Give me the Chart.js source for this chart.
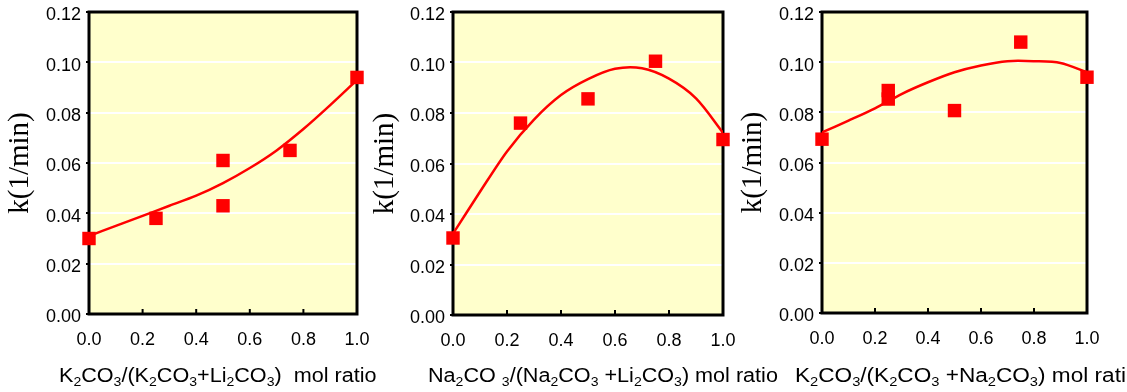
<!DOCTYPE html>
<html>
<head>
<meta charset="utf-8">
<script src="https://cdn.jsdelivr.net/npm/chart.js@4.4.1/dist/chart.umd.min.js"></script>
<style>
  body { margin: 0; background: #fff; }
  #wrap { position: relative; width: 1127px; height: 392px; overflow: hidden; }
  #wrap canvas { position: absolute; left: 0; top: 0; }
</style>
</head>
<body>
<div id="wrap">
  <canvas id="c1" width="1127" height="392"></canvas>
  <canvas id="c2" width="1127" height="392"></canvas>
  <canvas id="c3" width="1127" height="392"></canvas>
</div>
<script>
// measured points, K2CO3/(K2CO3+Li2CO3)
var xLiK = [0, 0.25, 0.5, 0.5, 0.75, 1.0];
var kLiK = [0.030, 0.038, 0.061, 0.043, 0.065, 0.094];
// Na2CO3/(Na2CO3+Li2CO3)
var xLiNa = [0, 0.25, 0.5, 0.75, 1.0];
var kLiNa = [0.0305, 0.076, 0.0856, 0.1005, 0.0695];
// K2CO3/(K2CO3+Na2CO3)
var xNaK = [0, 0.25, 0.25, 0.5, 0.75, 1.0];
var kNaK = [0.0693, 0.0887, 0.0853, 0.0807, 0.108, 0.094];

// fitted curves
var fitX = [0, 0.1, 0.2, 0.3, 0.4, 0.5, 0.6, 0.7, 0.8, 0.9, 1.0];
var fitLiK = [0.031, 0.035, 0.039, 0.043, 0.047, 0.052, 0.058, 0.065, 0.0735, 0.083, 0.093];
var fitLiNa = [0.0322, 0.0488, 0.0648, 0.0774, 0.0871, 0.0934, 0.0975, 0.0977, 0.0936, 0.0858, 0.0722];
var fitNaK = [0.072, 0.0767, 0.0816, 0.0873, 0.092, 0.096, 0.0987, 0.1004, 0.1004, 0.0997, 0.096];

// "_" marks a subscript digit
var titleLiK = 'K_2CO_3/(K_2CO_3+Li_2CO_3)  mol ratio';
var titleLiNa = 'Na_2CO _3/(Na_2CO_3 +Li_2CO_3) mol ratio';
var titleNaK = 'K_2CO_3/(K_2CO_3 +Na_2CO_3) mol ratio';

var sans = '"Liberation Sans", Arial, sans-serif';

function toPoints(xs, ys) {
    var pts = [];
    for (var i = 0; i < xs.length; i++) pts.push({ x: xs[i], y: ys[i] });
    return pts;
}

var panelPlugin = {
    id: 'panel',
    beforeDraw: function (chart) {
        var a = chart.chartArea, ctx = chart.ctx;
        ctx.save();
        ctx.fillStyle = '#FFFFCC';
        ctx.fillRect(a.left, a.top, a.right - a.left, a.bottom - a.top);
        ctx.restore();
    },
    beforeDatasetsDraw: function (chart) {
        var a = chart.chartArea, ctx = chart.ctx, xs = chart.scales.x;
        ctx.save();
        ctx.strokeStyle = '#000';
        ctx.lineWidth = 2;
        xs.ticks.forEach(function (t) {
            if (t.value <= 0 || t.value >= 1) return;
            var px = xs.getPixelForValue(t.value);
            ctx.beginPath();
            ctx.moveTo(px, a.bottom);
            ctx.lineTo(px, a.bottom - 5);
            ctx.stroke();
        });
        ctx.lineWidth = 3;
        ctx.strokeRect(a.left, a.top, a.right - a.left, a.bottom - a.top);
        ctx.restore();
    },
    afterDraw: function (chart) {
        var o = chart.options.plugins.panel;
        var ctx = chart.ctx, s = o.title, x = 0;
        ctx.save();
        ctx.translate(o.titleX, 382);
        ctx.scale(o.stretch, 1);
        ctx.fillStyle = '#000';
        ctx.textBaseline = 'alphabetic';
        for (var i = 0; i < s.length; i++) {
            var ch = s[i], sub = false;
            if (ch === '_') { sub = true; ch = s[++i]; }
            ctx.font = (sub ? '13px ' : '20px ') + sans;
            ctx.fillText(ch, x, sub ? 4 : 0);
            x += ctx.measureText(ch).width;
        }
        ctx.restore();
    }
};

function makeChart(id, px, py, fy, pad, yWidth, xHeight, title, titleX, stretch) {
    var ctx = document.getElementById(id).getContext('2d');
    return new Chart(ctx, {
        type: 'scatter',
        data: {
            datasets: [
                {
                    data: toPoints(px, py),
                    pointStyle: 'rect',
                    pointRadius: 9.5,
                    pointHoverRadius: 9.5,
                    backgroundColor: '#FF0000',
                    borderWidth: 0,
                    clip: false,
                    order: 0
                },
                {
                    data: toPoints(fitX, fy),
                    showLine: true,
                    tension: 0.3,
                    borderColor: '#FF0000',
                    borderWidth: 2.5,
                    pointRadius: 0,
                    order: 1
                }
            ]
        },
        options: {
            responsive: false,
            animation: false,
            events: [],
            layout: { padding: pad },
            plugins: {
                legend: { display: false },
                tooltip: { enabled: false },
                panel: { title: title, titleX: titleX, stretch: stretch }
            },
            scales: {
                x: {
                    type: 'linear',
                    min: 0,
                    max: 1,
                    afterFit: function (scale) { scale.height = xHeight; },
                    border: { display: false },
                    grid: { display: false, drawTicks: false },
                    ticks: {
                        stepSize: 0.2,
                        padding: 15,
                        color: '#000',
                        font: { family: sans, size: 18 },
                        callback: function (v) { return v.toFixed(1); }
                    }
                },
                y: {
                    min: 0,
                    max: 0.12,
                    afterFit: function (scale) { scale.width = yWidth; },
                    border: { display: false },
                    grid: {
                        color: '#FFFFFF',
                        lineWidth: 2,
                        tickColor: '#000',
                        tickLength: 3,
                        tickWidth: 2
                    },
                    ticks: {
                        stepSize: 0.02,
                        padding: 5,
                        color: '#000',
                        font: { family: sans, size: 18, lineHeight: '7px' },
                        // empty first line pushes the label a little below its grid line
                        callback: function (v) { return ['', v.toFixed(2)]; }
                    },
                    title: {
                        display: true,
                        text: 'k(1/min)',
                        color: '#000',
                        padding: { top: 0, bottom: 0 },
                        font: { family: '"Liberation Serif", "Times New Roman", serif', size: 29, lineHeight: 1.2 }
                    }
                }
            }
        },
        plugins: [panelPlugin]
    });
}

makeChart('c1', xLiK, kLiK, fitLiK, { left: 3, right: 770, top: 12, bottom: 0 }, 86, 78, titleLiK, 59, 1.08);
makeChart('c2', xLiNa, kLiNa, fitLiNa, { left: 368, right: 404, top: 10, bottom: 0 }, 85, 77, titleLiNa, 428, 1.08);
makeChart('c3', xNaK, kNaK, fitNaK, { left: 736, right: 40, top: 7, bottom: 0 }, 86, 79, titleNaK, 795, 1.13);
</script>
</body>
</html>
